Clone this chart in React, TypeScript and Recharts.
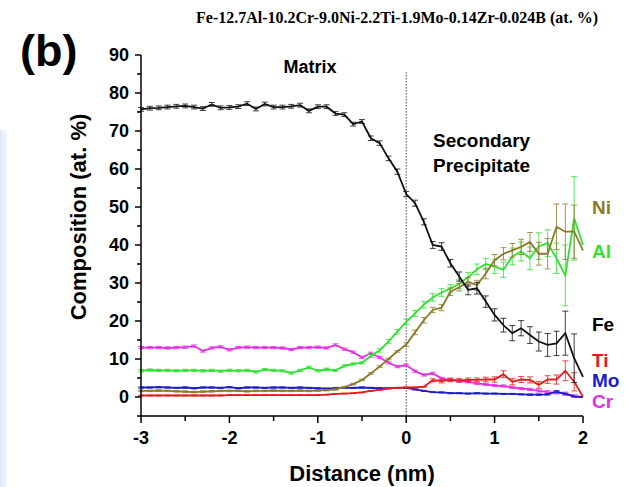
import React from "react";
import { LineChart, Line, XAxis, YAxis, ErrorBar, ReferenceLine } from "recharts";

// distance from the interface (nm)
const distance = [
  -3, -2.9, -2.8, -2.7, -2.6, -2.5, -2.4, -2.3, -2.2, -2.1, -2, -1.9, -1.8, -1.7, -1.6, -1.5, -1.4,
  -1.3, -1.2, -1.1, -1, -0.9, -0.8, -0.7, -0.6, -0.5, -0.4, -0.3, -0.2, -0.1, 0, 0.1, 0.2, 0.3, 0.4,
  0.5, 0.6, 0.7, 0.8, 0.9, 1, 1.1, 1.2, 1.3, 1.4, 1.5, 1.6, 1.7, 1.8, 1.9, 2,
];

const fe = [
  75.7, 76.0, 76.1, 76.3, 76.5, 76.6, 76.3, 75.9, 77.0, 76.1, 76.2, 76.4, 77.2, 75.8, 77.1, 76.3, 76.3,
  76.5, 76.8, 75.3, 76.4, 76.4, 74.6, 74.3, 71.8, 72.5, 68.1, 66.8, 62.8, 59.3, 53.4, 51.0, 46.1, 40.0,
  39.6, 35.2, 31.7, 28.2, 28.6, 25.1, 21.6, 18.9, 16.8, 18.1, 16.3, 14.6, 13.7, 14.1, 16.8, 10.2, 5.3,
];
const feErr = [
  0.5, 0.5, 0.5, 0.5, 0.5, 0.5, 0.5, 0.5, 0.5, 0.5, 0.5, 0.5, 0.5, 0.5, 0.5, 0.5, 0.5, 0.5, 0.5, 0.5,
  0.5, 0.5, 0.5, 0.5, 0.5, 0.5, 0.6, 0.6, 0.6, 0.7, 0.7, 0.8, 0.8, 0.9, 1.0, 1.0, 1.2, 1.3, 1.5, 1.5,
  1.6, 1.8, 2.0, 2.0, 2.2, 2.5, 3.0, 3.2, 5.8, 6.4, 0,
];

const ni = [
  1.6, 1.6, 1.7, 1.6, 1.5, 1.4, 1.3, 1.4, 1.5, 1.6, 1.6, 1.6, 1.5, 1.6, 1.6, 1.7, 1.6, 1.6, 1.7, 1.6,
  1.7, 1.8, 2.0, 2.6, 3.4, 4.5, 6.2, 8.0, 10.0, 12.0, 13.8, 17.0, 20.2, 22.9, 23.5, 27.7, 28.9, 30.3,
  29.4, 32.5, 36.0, 37.7, 38.6, 39.5, 40.8, 37.7, 37.7, 44.8, 43.5, 43.5, 38.6,
];
const niErr = [
  0.2, 0.2, 0.2, 0.2, 0.2, 0.2, 0.2, 0.2, 0.2, 0.2, 0.2, 0.2, 0.2, 0.2, 0.2, 0.2, 0.2, 0.2, 0.2, 0.2,
  0.2, 0.2, 0.2, 0.2, 0.2, 0.2, 0.2, 0.2, 0.2, 0.2, 0.5, 0.6, 0.7, 0.7, 0.8, 1.0, 1.0, 1.2, 1.3, 1.4,
  1.5, 1.6, 1.8, 2.0, 2.5, 3.0, 4.0, 6.0, 7.3, 7.0, 0,
];

const al = [
  6.9, 7.1, 7.0, 7.0, 6.9, 7.0, 7.0, 6.9, 7.0, 6.8, 7.0, 6.9, 7.0, 6.6, 7.2, 7.0, 6.9, 6.3, 7.0, 7.8,
  6.9, 7.3, 7.0, 8.2, 8.7, 9.0, 10.8, 12.3, 14.6, 17.2, 19.8, 22.0, 24.3, 26.2, 27.5, 28.5, 29.8, 31.5,
  33.6, 35.0, 34.3, 33.5, 37.0, 38.3, 36.5, 39.7, 40.5, 36.5, 32.0, 47.0, 40.0,
];
const alErr = [
  0.3, 0.3, 0.3, 0.3, 0.3, 0.3, 0.3, 0.3, 0.3, 0.3, 0.3, 0.3, 0.3, 0.3, 0.3, 0.3, 0.3, 0.3, 0.3, 0.3,
  0.3, 0.3, 0.3, 0.3, 0.3, 0.3, 0.4, 0.5, 0.5, 0.6, 0.7, 0.8, 0.9, 1.0, 1.0, 1.1, 1.2, 1.3, 1.4, 1.5,
  1.8, 2.0, 2.2, 2.5, 3.0, 3.5, 3.5, 4.0, 8.0, 11.0, 0,
];

const cr = [
  13.0, 13.0, 13.0, 12.9, 13.0, 13.1, 13.4, 12.1, 12.9, 13.2, 12.4, 13.0, 13.1, 13.0, 13.0, 13.0, 12.9,
  12.5, 13.0, 13.0, 13.1, 12.9, 13.7, 12.6, 11.8, 10.4, 11.5, 10.4, 9.0, 8.0, 8.4, 6.8, 5.8, 6.2, 4.9,
  4.5, 4.2, 4.0, 3.6, 3.3, 3.0, 2.9, 2.5, 2.2, 2.0, 1.6, 1.3, 1.2, 0.9, 0.3, 0.0,
];
const crErr = [
  0.3, 0.3, 0.3, 0.3, 0.3, 0.3, 0.3, 0.3, 0.3, 0.3, 0.3, 0.3, 0.3, 0.3, 0.3, 0.3, 0.3, 0.3, 0.3, 0.3,
  0.3, 0.3, 0.3, 0.3, 0.3, 0.3, 0.3, 0.3, 0.3, 0.3, 0.3, 0.3, 0.3, 0.3, 0.3, 0.3, 0.3, 0.3, 0.3, 0.3,
  0.3, 0.3, 0.3, 0.3, 0.3, 0.3, 0.4, 0.4, 0.4, 0.3, 0,
];

const ti = [
  0.4, 0.4, 0.4, 0.4, 0.4, 0.4, 0.4, 0.4, 0.4, 0.4, 0.5, 0.5, 0.5, 0.5, 0.5, 0.5, 0.5, 0.5, 0.5, 0.5,
  0.5, 0.6, 0.8, 0.9, 1.0, 1.2, 1.6, 1.9, 2.3, 2.4, 2.5, 2.5, 2.7, 4.4, 4.2, 4.5, 4.4, 4.5, 4.5, 4.6,
  4.6, 6.0, 4.0, 4.6, 4.5, 3.2, 4.6, 4.6, 6.9, 4.0, 0.1,
];
const tiErr = [
  0.1, 0.1, 0.1, 0.1, 0.1, 0.1, 0.1, 0.1, 0.1, 0.1, 0.1, 0.1, 0.1, 0.1, 0.1, 0.1, 0.1, 0.1, 0.1, 0.1,
  0.1, 0.1, 0.1, 0.1, 0.1, 0.1, 0.1, 0.1, 0.1, 0.1, 0.1, 0.1, 0.1, 0.4, 0.5, 0.5, 0.5, 0.5, 0.5, 0.6,
  0.7, 0.9, 0.8, 0.8, 0.8, 0.9, 1.0, 1.2, 2.6, 2.4, 0,
];

const mo = [
  2.5, 2.5, 2.6, 2.5, 2.4, 2.5, 2.3, 2.5, 2.5, 2.4, 2.6, 2.3, 2.5, 2.5, 2.4, 2.5, 2.5, 2.4, 2.5, 2.4,
  2.3, 2.2, 2.3, 2.4, 2.4, 2.5, 2.4, 2.3, 2.3, 2.4, 2.4, 2.0, 1.6, 1.3, 1.2, 1.0, 1.0, 0.9, 1.0, 0.9,
  0.9, 0.8, 0.8, 0.7, 0.6, 0.6, 0.7, 1.4, 0.8, 0.1, 0.0,
];
const moErr = [
  0.15, 0.15, 0.15, 0.15, 0.15, 0.15, 0.15, 0.15, 0.15, 0.15, 0.15, 0.15, 0.15, 0.15, 0.15, 0.15, 0.15,
  0.15, 0.15, 0.15, 0.15, 0.15, 0.15, 0.15, 0.15, 0.15, 0.15, 0.15, 0.15, 0.15, 0.15, 0.15, 0.15, 0.15,
  0.15, 0.15, 0.15, 0.15, 0.15, 0.15, 0.15, 0.15, 0.15, 0.15, 0.2, 0.2, 0.2, 0.3, 0.2, 0.1, 0,
];

const xTicks = [-3, -2.5, -2, -1.5, -1, -0.5, 0, 0.5, 1, 1.5, 2];
const yTicks = [-5, 0, 5, 10, 15, 20, 25, 30, 35, 40, 45, 50, 55, 60, 65, 70, 75, 80, 85, 90];

const data = distance.map((d, i) => ({
  d,
  Fe: fe[i], FeErr: feErr[i],
  Ni: ni[i], NiErr: niErr[i],
  Al: al[i], AlErr: alErr[i],
  Cr: cr[i], CrErr: crErr[i],
  Ti: ti[i], TiErr: tiErr[i],
  Mo: mo[i], MoErr: moErr[i],
}));

const COLORS = {
  Fe: "#111111",
  Ni: "#8a7a2a",
  Al: "#2fe02f",
  Cr: "#e42ee4",
  Ti: "#e41b1b",
  Mo: "#1c1ccc",
};

const SANS = "'Liberation Sans', Arial, sans-serif";

const XTick = (props: any) => {
  const { x, y, payload } = props;
  const major = Number.isInteger(payload.value);
  return (
    <g>
      <line x1={x} x2={x} y1={y} y2={y + (major ? 7 : 5)} stroke="#000" strokeWidth={1.5} />
      {major && (
        <text x={x} y={y + 22} textAnchor="middle" dominantBaseline="central"
          fontFamily={SANS} fontWeight="bold" fontSize={18} fill="#000">
          {payload.value}
        </text>
      )}
    </g>
  );
};

const YTick = (props: any) => {
  const { x, y, payload } = props;
  const major = payload.value % 10 === 0;
  return (
    <g>
      <line x1={x} x2={x - (major ? 6 : 4)} y1={y} y2={y} stroke="#000" strokeWidth={1.5} />
      {major && (
        <text x={x - 12} y={y} textAnchor="end" dominantBaseline="central"
          fontFamily={SANS} fontWeight="bold" fontSize={18} fill="#000">
          {payload.value}
        </text>
      )}
    </g>
  );
};

const series: (keyof typeof COLORS)[] = ["Cr", "Mo", "Ti", "Al", "Ni", "Fe"];

const labels = [
  { text: "Ni", y: 207, color: COLORS.Ni },
  { text: "Al", y: 251, color: COLORS.Al },
  { text: "Fe", y: 324, color: "#000" },
  { text: "Ti", y: 360, color: COLORS.Ti },
  { text: "Mo", y: 380, color: COLORS.Mo },
  { text: "Cr", y: 401, color: COLORS.Cr },
];

export default function App() {
  return (
    <div style={{ position: "absolute", left: 0, top: 0, width: 635, height: 487, background: "#fff" }}>
      <div style={{ position: "absolute", left: 0, top: 130, width: 7, height: 357,
        background: "linear-gradient(to right, #dde9f8, #f3f7fd)" }} />
      <LineChart width={635} height={487} data={data}
        margin={{ top: 55, right: 52, bottom: 41, left: 81 }}>
        <XAxis dataKey="d" type="number" domain={[-3, 2]} ticks={xTicks} tick={<XTick />}
          tickSize={0} tickMargin={0} tickLine={false} height={30}
          axisLine={{ stroke: "#000", strokeWidth: 1.5 }} />
        <YAxis type="number" domain={[-5, 90]} ticks={yTicks} tick={<YTick />}
          tickSize={0} tickMargin={0} tickLine={false} width={60} interval={0}
          axisLine={{ stroke: "#000", strokeWidth: 1.5 }} />
        <ReferenceLine segment={[{ x: 0, y: 85.5 }, { x: 0, y: -5 }]}
          stroke="#444" strokeDasharray="1.5 1.5" strokeWidth={1} />
        {series.map((s) => (
          <Line key={s} type="linear" dataKey={s} stroke={COLORS[s]} strokeWidth={1.8}
            dot={false} isAnimationActive={false}>
            <ErrorBar dataKey={`${s}Err`} direction="y" width={3} stroke={COLORS[s]}
              strokeWidth={1} strokeOpacity={0.8} />
          </Line>
        ))}
      </LineChart>
      <svg width={635} height={487} style={{ position: "absolute", left: 0, top: 0, pointerEvents: "none" }}>
        <text x={397} y={17} textAnchor="middle" dominantBaseline="central"
          fontFamily="'Liberation Serif', 'Times New Roman', serif" fontWeight="bold" fontSize={16}>
          Fe-12.7Al-10.2Cr-9.0Ni-2.2Ti-1.9Mo-0.14Zr-0.024B (at. %)
        </text>
        <text x={20} y={66} fontFamily={SANS} fontWeight="bold" fontSize={45}>(b)</text>
        <text transform="translate(78,217) rotate(-90)" textAnchor="middle" dominantBaseline="central"
          fontFamily={SANS} fontWeight="bold" fontSize={22}>
          Composition (at. %)
        </text>
        <text x={362} y={473} textAnchor="middle" dominantBaseline="central"
          fontFamily={SANS} fontWeight="bold" fontSize={22}>
          Distance (nm)
        </text>
        <text x={310} y={67} textAnchor="middle" dominantBaseline="central"
          fontFamily={SANS} fontWeight="bold" fontSize={18}>
          Matrix
        </text>
        <text x={433} y={140} dominantBaseline="central" fontFamily={SANS} fontWeight="bold" fontSize={19}>
          Secondary
        </text>
        <text x={433} y={165} dominantBaseline="central" fontFamily={SANS} fontWeight="bold" fontSize={19}>
          Precipitate
        </text>
        {labels.map((l) => (
          <text key={l.text} x={592} y={l.y} dominantBaseline="central" fontFamily={SANS}
            fontWeight="bold" fontSize={19} fill={l.color}>
            {l.text}
          </text>
        ))}
      </svg>
    </div>
  );
}
